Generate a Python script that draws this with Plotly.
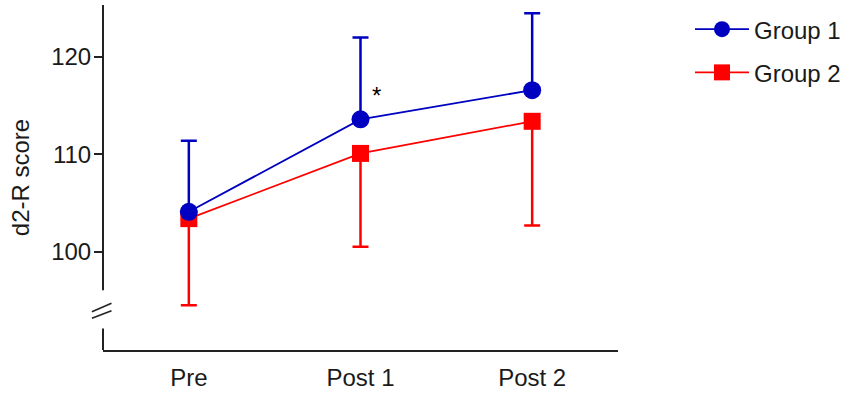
import plotly.graph_objects as go

# ---- data ----
timepoints = ["Pre", "Post 1", "Post 2"]
group1_mean = [104.1, 113.6, 116.6]
group1_sd = [7.3, 8.4, 7.9]
group2_mean = [103.4, 110.1, 113.4]
group2_sd = [8.9, 9.6, 10.7]
y_ticks = [100, 110, 120]
sig_label = "*"

BLUE = "#0000C0"
RED = "#FF0000"
FONT = "Arial, Liberation Sans, sans-serif"
FS = 24
YMIN, YMAX = 89.9, 125.35
BREAK_LO, BREAK_HI = 92.1, 96.05

fig = go.Figure()

fig.add_trace(go.Scatter(
    x=timepoints, y=group2_mean, name="Group 2", mode="lines+markers",
    line=dict(color=RED, width=1.8),
    marker=dict(symbol="square", size=17, color=RED),
    error_y=dict(type="data", symmetric=False, array=[0]*3, arrayminus=group2_sd,
                 color=RED, thickness=2.5, width=8),
    legendgroup="g2", legendrank=2,
))
fig.add_trace(go.Scatter(
    x=timepoints, y=group1_mean, name="Group 1", mode="lines+markers",
    line=dict(color=BLUE, width=1.8),
    marker=dict(symbol="circle", size=18, color=BLUE),
    error_y=dict(type="data", symmetric=False, array=group1_sd, arrayminus=[0]*3,
                 color=BLUE, thickness=2.5, width=8),
    legendgroup="g1", legendrank=1,
))

# significance marker
fig.add_annotation(x=1, y=group1_mean[1] + 2.4, xshift=16, text=sig_label, showarrow=False,
                   font=dict(family=FONT, size=FS, color="black"))

# broken y axis line
shapes = [
    dict(type="line", xref="paper", yref="y", x0=0, x1=0, y0=BREAK_HI, y1=YMAX,
         line=dict(color="#222", width=2)),
    dict(type="line", xref="paper", yref="y", x0=0, x1=0, y0=YMIN, y1=BREAK_LO,
         line=dict(color="#222", width=2)),
    dict(type="line", xref="paper", yref="y", x0=-0.0215, x1=0.0165, y0=93.83, y1=94.70,
         line=dict(color="#222", width=1.6)),
    dict(type="line", xref="paper", yref="y", x0=-0.0215, x1=0.0165, y0=93.16, y1=93.94,
         line=dict(color="#222", width=1.6)),
]

fig.update_layout(
    width=850, height=395,
    margin=dict(l=103, r=232, t=5, b=45, autoexpand=False),
    paper_bgcolor="white", plot_bgcolor="white",
    font=dict(family=FONT, size=FS, color="#1a1a1a"),
    shapes=shapes,
    xaxis=dict(type="category", range=[-0.5, 2.5], showline=True, linecolor="#222",
               linewidth=2, ticks="", showgrid=False, zeroline=False, automargin=False,
               tickfont=dict(size=FS), ticklabelstandoff=5),
    yaxis=dict(range=[YMIN, YMAX], tickvals=y_ticks, showline=False, ticks="outside",
               ticklen=8, tickwidth=2, tickcolor="#222", showgrid=False, zeroline=False,
               automargin=False, tickfont=dict(size=FS), ticklabelstandoff=-2,
               title=dict(text="d2-R score", font=dict(size=FS), standoff=14)),
    legend=dict(x=1.1398, y=0.994, xanchor="left", yanchor="top",
                traceorder="grouped", tracegroupgap=9, itemwidth=54,
                font=dict(size=FS), bgcolor="rgba(0,0,0,0)"),
)

fig.write_html("out.html", config={"displayModeBar": False})
with open("out.html", "r", encoding="utf-8") as f:
    html = f.read()
html = html.replace("<body>", '<body style="margin:0;padding:0">', 1)
with open("out.html", "w", encoding="utf-8") as f:
    f.write(html)
